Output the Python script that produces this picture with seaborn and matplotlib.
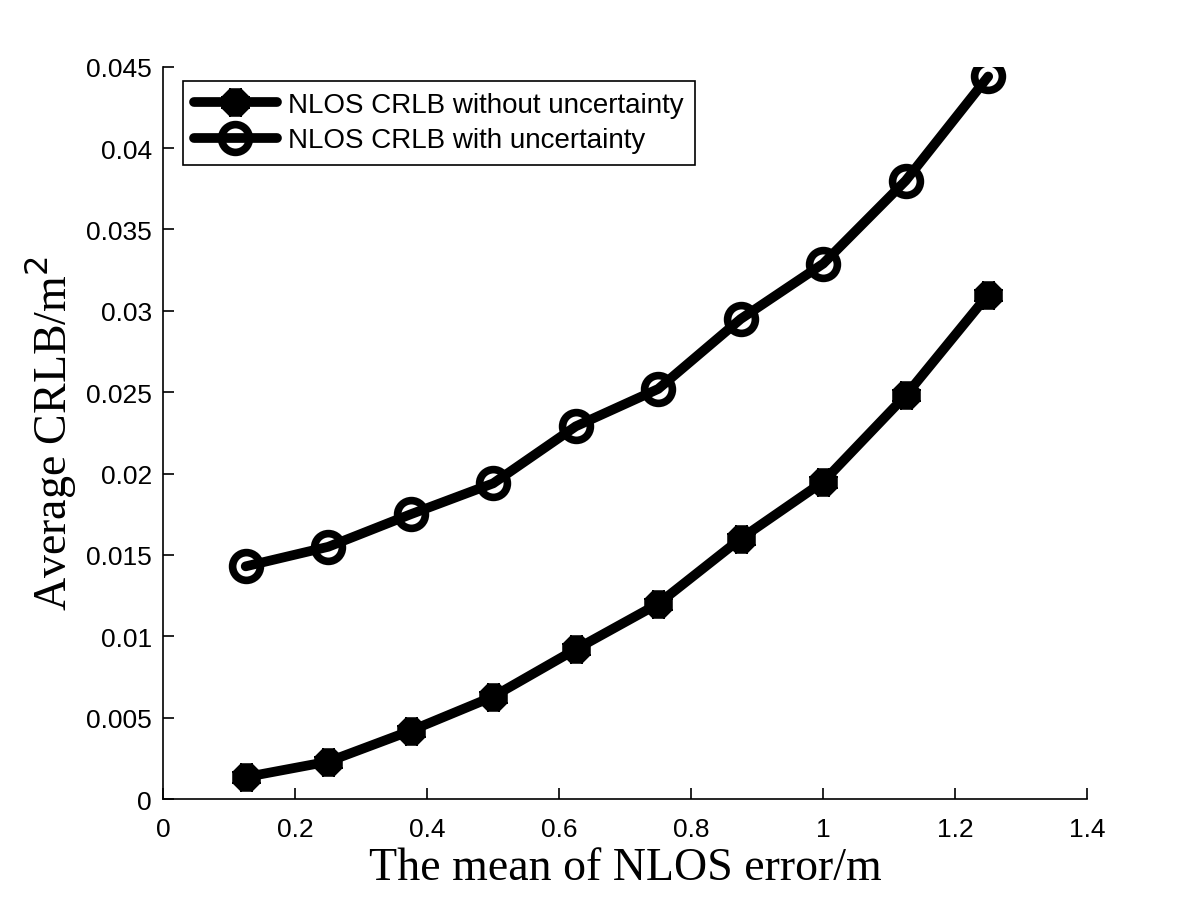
import numpy as np
import pandas as pd
import matplotlib
matplotlib.use('Agg')
import matplotlib.pyplot as plt
import seaborn as sns

# ── Data ──
nlos_mean = [0.125, 0.25, 0.375, 0.5, 0.625, 0.75, 0.875, 1.0, 1.125, 1.25]
crlb_without = [0.00135, 0.0023, 0.0042, 0.0063, 0.0092, 0.0120, 0.0160, 0.0195, 0.0248, 0.0310]
crlb_with = [0.0143, 0.0155, 0.0175, 0.0194, 0.0229, 0.0252, 0.0295, 0.0329, 0.0380, 0.0444]

label_without = 'NLOS CRLB without uncertainty'
label_with = 'NLOS CRLB with uncertainty'

sns.set_theme(style='ticks')
plt.rcParams['font.family'] = ['Liberation Sans', 'DejaVu Sans']
plt.rcParams['text.color'] = 'black'
plt.rcParams['axes.labelcolor'] = 'black'

fig = plt.figure(figsize=(12, 9.03), dpi=100)
ax = fig.add_axes([0.136, 0.114, 0.77, 0.811])

# asterisk blob series
sns.lineplot(x=nlos_mean, y=crlb_without, color='black', linewidth=7,
             marker=(8, 2, 0), markersize=20, markeredgewidth=9,
             markeredgecolor='black', ax=ax, label=label_without)
# hollow circle series (line visible through the ring)
sns.lineplot(x=nlos_mean, y=crlb_with, color='black', linewidth=7,
             marker='o', markersize=20, markeredgewidth=5.5,
             markerfacecolor='none', markeredgecolor='black', ax=ax, label=label_with)

ax.set_xlim(0, 1.4)
ax.set_ylim(0, 0.045)
ax.set_xticks([0, 0.2, 0.4, 0.6, 0.8, 1.0, 1.2, 1.4])
ax.set_xticklabels(['0', '0.2', '0.4', '0.6', '0.8', '1', '1.2', '1.4'])
ax.set_yticks(np.arange(0, 0.0451, 0.005))
ax.set_yticklabels(['0', '0.005', '0.01', '0.015', '0.02', '0.025', '0.03', '0.035', '0.04', '0.045'])
ax.tick_params(direction='in', length=8, width=1.2, labelsize=19, colors='black')
ax.tick_params(axis='x', pad=13)
ax.tick_params(axis='y', pad=8)
sns.despine(ax=ax)
for s in ['left', 'bottom']:
    ax.spines[s].set_linewidth(1.2)
    ax.spines[s].set_color('black')

ax.set_xlabel('The mean of NLOS error/m', fontsize=33, family=['Liberation Serif'], labelpad=4)
ax.set_ylabel('Average CRLB/m$^2$', fontsize=33, family=['Liberation Serif'], labelpad=6)

leg = ax.legend(loc='upper left', bbox_to_anchor=(0.021, 0.981), fontsize=20,
                frameon=True, fancybox=False, handlelength=3.0, borderpad=0.4,
                labelspacing=0.35, handletextpad=0.4, borderaxespad=0)
leg.get_frame().set_edgecolor('black')
leg.get_frame().set_linewidth(1.2)
leg.get_frame().set_alpha(1)

fig.savefig('out.png', dpi=100)
